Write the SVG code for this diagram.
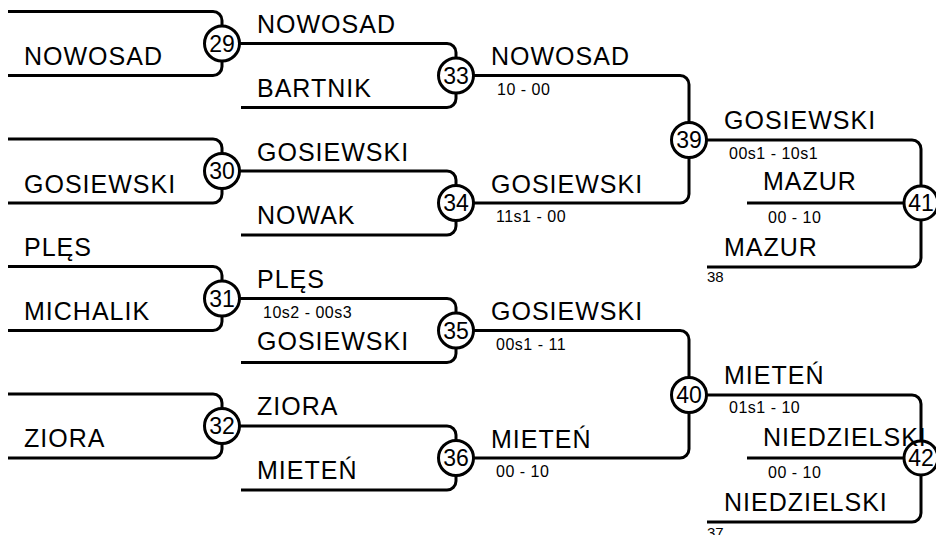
<svg xmlns="http://www.w3.org/2000/svg" width="936" height="535" viewBox="0 0 936 535">
<style>
.ln{fill:none;stroke:#000;stroke-width:3;stroke-linejoin:round}
.c{fill:#fff;stroke:#000;stroke-width:3}
.n{font-family:"Liberation Sans",Arial,sans-serif;font-size:25px;letter-spacing:1px;fill:#000}
.s{font-family:"Liberation Sans",Arial,sans-serif;font-size:16px;letter-spacing:0.5px;fill:#000}
.t{font-family:"Liberation Sans",Arial,sans-serif;font-size:15px;fill:#000}
.k{font-family:"Liberation Sans",Arial,sans-serif;font-size:23px;fill:#000;text-anchor:middle}
</style>
<rect width="936" height="535" fill="#fff"/>
<g id="connectors">
<path class="ln" d="M8,11.5 H213 A9,9 0 0 1 222,20.5 V66.5 A9,9 0 0 1 213,75.5 H8"/>
<path class="ln" d="M8,139 H213 A9,9 0 0 1 222,148 V194 A9,9 0 0 1 213,203 H8"/>
<path class="ln" d="M8,266.5 H213 A9,9 0 0 1 222,275.5 V321.5 A9,9 0 0 1 213,330.5 H8"/>
<path class="ln" d="M8,394 H213 A9,9 0 0 1 222,403 V449 A9,9 0 0 1 213,458 H8"/>
<path class="ln" d="M222,43.5 H447 A9,9 0 0 1 456,52.5 V98.5 A9,9 0 0 1 447,107.5 H241"/>
<path class="ln" d="M222,171 H447 A9,9 0 0 1 456,180 V226 A9,9 0 0 1 447,235 H241"/>
<path class="ln" d="M222,298.5 H447 A9,9 0 0 1 456,307.5 V353.5 A9,9 0 0 1 447,362.5 H241"/>
<path class="ln" d="M222,426 H447 A9,9 0 0 1 456,435 V481 A9,9 0 0 1 447,490 H241"/>
<path class="ln" d="M456,75.5 H680 A9,9 0 0 1 689,84.5 V194 A9,9 0 0 1 680,203 H456"/>
<path class="ln" d="M456,330.5 H680 A9,9 0 0 1 689,339.5 V449 A9,9 0 0 1 680,458 H456"/>
<path class="ln" d="M689,140 H912 A9,9 0 0 1 921,149 V258 A9,9 0 0 1 912,267 H707"/>
<path class="ln" d="M747,203 H921"/>
<path class="ln" d="M689,395 H912 A9,9 0 0 1 921,404 V513 A9,9 0 0 1 912,522 H707"/>
<path class="ln" d="M747,458 H921"/>
</g>
<g id="n29"><circle class="c" cx="222" cy="43.5" r="17.5"/><text class="k" x="222" y="51.5">29</text></g>
<g id="n30"><circle class="c" cx="222" cy="171" r="17.5"/><text class="k" x="222" y="179">30</text></g>
<g id="n31"><circle class="c" cx="222" cy="298.5" r="17.5"/><text class="k" x="222" y="306.5">31</text></g>
<g id="n32"><circle class="c" cx="222" cy="426" r="17.5"/><text class="k" x="222" y="434">32</text></g>
<g id="n33"><circle class="c" cx="456" cy="75.5" r="17.5"/><text class="k" x="456" y="83.5">33</text></g>
<g id="n34"><circle class="c" cx="456" cy="203" r="17.5"/><text class="k" x="456" y="211">34</text></g>
<g id="n35"><circle class="c" cx="456" cy="330.5" r="17.5"/><text class="k" x="456" y="338.5">35</text></g>
<g id="n36"><circle class="c" cx="456" cy="458" r="17.5"/><text class="k" x="456" y="466">36</text></g>
<g id="n39"><circle class="c" cx="689" cy="140" r="17.5"/><text class="k" x="689" y="148">39</text></g>
<g id="n40"><circle class="c" cx="689" cy="395" r="17.5"/><text class="k" x="689" y="403">40</text></g>
<g id="n41"><circle class="c" cx="921" cy="203" r="17"/><text class="k" x="921" y="211">41</text></g>
<g id="n42"><circle class="c" cx="921" cy="458" r="17"/><text class="k" x="921" y="466">42</text></g>
<g id="labels">
<text class="n" x="24" y="65">NOWOSAD</text>
<text class="n" x="24" y="192.5">GOSIEWSKI</text>
<text class="n" x="24" y="256">PLĘS</text>
<text class="n" x="24" y="320">MICHALIK</text>
<text class="n" x="24" y="447">ZIORA</text>
<text class="n" x="257" y="33">NOWOSAD</text>
<text class="n" x="257" y="97">BARTNIK</text>
<text class="n" x="257" y="160.5">GOSIEWSKI</text>
<text class="n" x="257" y="224">NOWAK</text>
<text class="n" x="257" y="288">PLĘS</text>
<text class="s" x="263" y="318">10s2 - 00s3</text>
<text class="n" x="257" y="350">GOSIEWSKI</text>
<text class="n" x="257" y="415">ZIORA</text>
<text class="n" x="257" y="479">MIETEŃ</text>
<text class="n" x="491" y="65">NOWOSAD</text>
<text class="s" x="497" y="94.5">10 - 00</text>
<text class="n" x="491" y="192.5">GOSIEWSKI</text>
<text class="s" x="496" y="222">11s1 - 00</text>
<text class="n" x="491" y="319.5">GOSIEWSKI</text>
<text class="s" x="496" y="350">00s1 - 11</text>
<text class="n" x="491" y="447.5">MIETEŃ</text>
<text class="s" x="496" y="476.5">00 - 10</text>
<text class="n" x="724" y="128.5">GOSIEWSKI</text>
<text class="s" x="729" y="158.5">00s1 - 10s1</text>
<text class="n" x="763" y="190">MAZUR</text>
<text class="s" x="768" y="223">00 - 10</text>
<text class="n" x="724" y="255.5">MAZUR</text>
<text class="t" x="707" y="282">38</text>
<text class="n" x="724" y="384">MIETEŃ</text>
<text class="s" x="729" y="413">01s1 - 10</text>
<text class="n" x="763" y="446">NIEDZIELSKI</text>
<text class="s" x="768" y="478">00 - 10</text>
<text class="n" x="724" y="510.5">NIEDZIELSKI</text>
<text class="t" x="707" y="538">37</text>
</g>
</svg>
